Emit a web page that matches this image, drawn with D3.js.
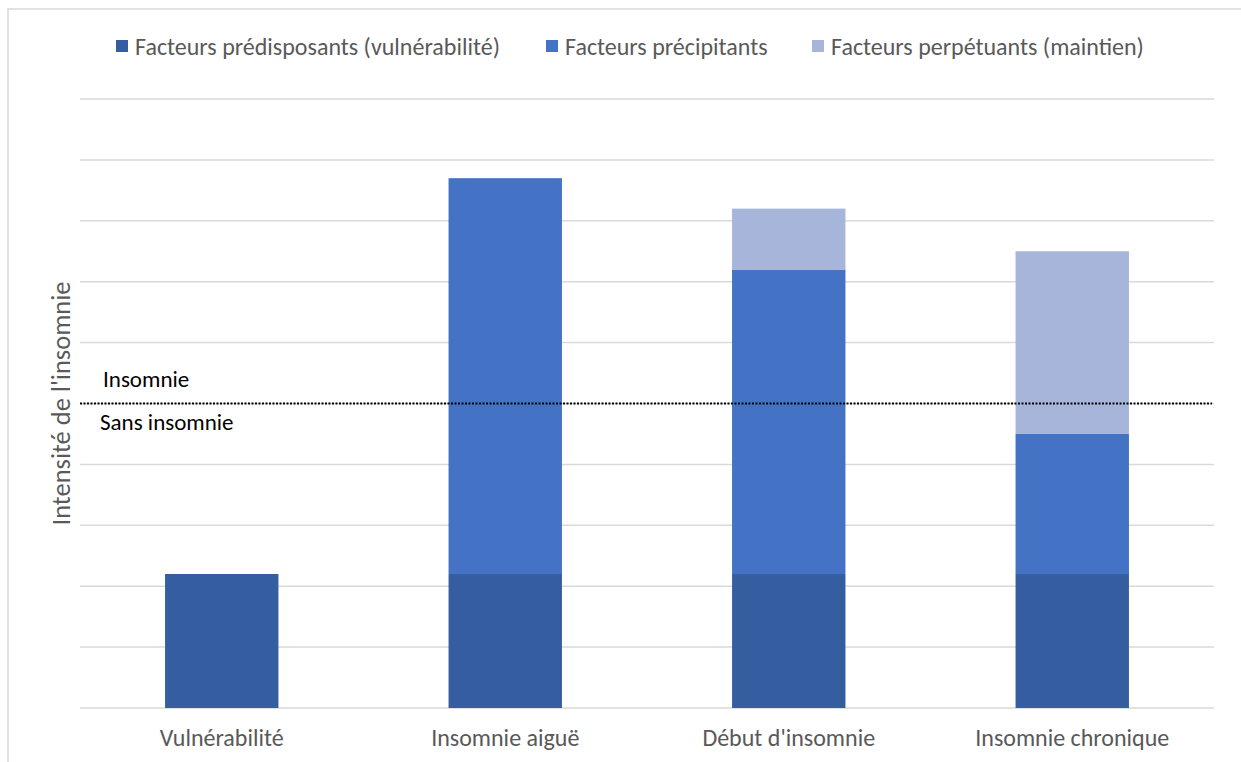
<!DOCTYPE html>
<html>
<head>
<meta charset="utf-8">
<script src="https://cdn.jsdelivr.net/npm/d3@7"></script>
<style>
  body { margin: 0; background: #fff; }
  text { font-family: Carlito, Calibri, "Open Sans", sans-serif; }
</style>
</head>
<body>
<svg id="chart" width="1241" height="762"></svg>
<script>
const categories = ['Vulnérabilité', 'Insomnie aiguë', "Début d'insomnie", 'Insomnie chronique'];
const seriesNames = ['Facteurs prédisposants (vulnérabilité)', 'Facteurs précipitants', 'Facteurs perpétuants (maintien)'];
const predisposants = [2.2, 2.2, 2.2, 2.2];
const precipitants = [0, 6.5, 5.0, 2.3];
const perpetuants = [0, 0, 1.0, 3.0];
const threshold = 5;
const colors = ['#355EA0', '#4472C4', '#A7B5DA'];

const svg = d3.select('#chart');
const margin = {left: 80, right: 27, top: 99, bottom: 54};
const width = 1241, height = 762;

// frame of the chart area
svg.append('path')
  .attr('d', `M 8 ${height} L 8 9 L ${width} 9`)
  .style('fill', 'none')
  .style('stroke', '#D9D9D9')
  .style('stroke-width', 1.5);

const x = d3.scaleBand()
  .domain(categories)
  .range([margin.left, width - margin.right])
  .paddingInner(0.6)
  .paddingOuter(0.3);

const y = d3.scaleLinear()
  .domain([0, 10])
  .range([height - margin.bottom, margin.top]);

// gridlines
svg.append('g')
  .selectAll('line')
  .data(y.ticks(10))
  .join('line')
  .attr('x1', margin.left)
  .attr('x2', width - margin.right)
  .attr('y1', d => y(d))
  .attr('y2', d => y(d))
  .style('stroke', '#D9D9D9')
  .style('stroke-width', 1.5);

const rows = categories.map((c, i) => ({
  cat: c,
  s0: predisposants[i],
  s1: precipitants[i],
  s2: perpetuants[i]
}));
const stacked = d3.stack().keys(['s0', 's1', 's2'])(rows);

svg.append('g')
  .selectAll('g')
  .data(stacked)
  .join('g')
  .style('fill', (d, i) => colors[i])
  .selectAll('rect')
  .data(d => d.filter(p => p[1] - p[0] > 0))
  .join('rect')
  .attr('x', d => x(d.data.cat))
  .attr('width', x.bandwidth())
  .attr('y', d => y(d[1]))
  .attr('height', d => y(d[0]) - y(d[1]));

// x axis labels
const xAxis = svg.append('g')
  .attr('transform', `translate(0, ${height - margin.bottom})`)
  .call(d3.axisBottom(x).tickSize(0).tickPadding(21));
xAxis.select('.domain').remove();
xAxis.selectAll('text')
  .style('font-size', '24px')
  .style('fill', '#595959')
  .style('font-family', 'Carlito, Calibri, "Open Sans", sans-serif');

// threshold line
svg.append('line')
  .attr('x1', margin.left)
  .attr('x2', width - margin.right - 2)
  .attr('y1', y(threshold))
  .attr('y2', y(threshold))
  .style('stroke', '#000')
  .style('stroke-width', 2)
  .style('stroke-dasharray', '2,1.5');

svg.append('text')
  .attr('x', 103)
  .attr('y', y(threshold) - 17)
  .style('font-size', '23px')
  .style('fill', '#000')
  .text('Insomnie');

svg.append('text')
  .attr('x', 100)
  .attr('y', y(threshold) + 26)
  .style('font-size', '23px')
  .style('fill', '#000')
  .text('Sans insomnie');

// y axis title
svg.append('text')
  .attr('transform', `translate(70, ${y(threshold)}) rotate(-90)`)
  .attr('text-anchor', 'middle')
  .style('font-size', '26.5px')
  .style('fill', '#595959')
  .text("Intensité de l'insomnie");

// legend
const legendX = [116, 546, 812];
const legend = svg.append('g')
  .selectAll('g')
  .data(seriesNames)
  .join('g')
  .attr('transform', (d, i) => `translate(${legendX[i]}, 40)`);
legend.append('rect')
  .attr('width', 12)
  .attr('height', 12)
  .style('fill', (d, i) => colors[i]);
legend.append('text')
  .attr('x', 19)
  .attr('y', 15)
  .style('font-size', '24px')
  .style('fill', '#595959')
  .text(d => d);
</script>
</body>
</html>
